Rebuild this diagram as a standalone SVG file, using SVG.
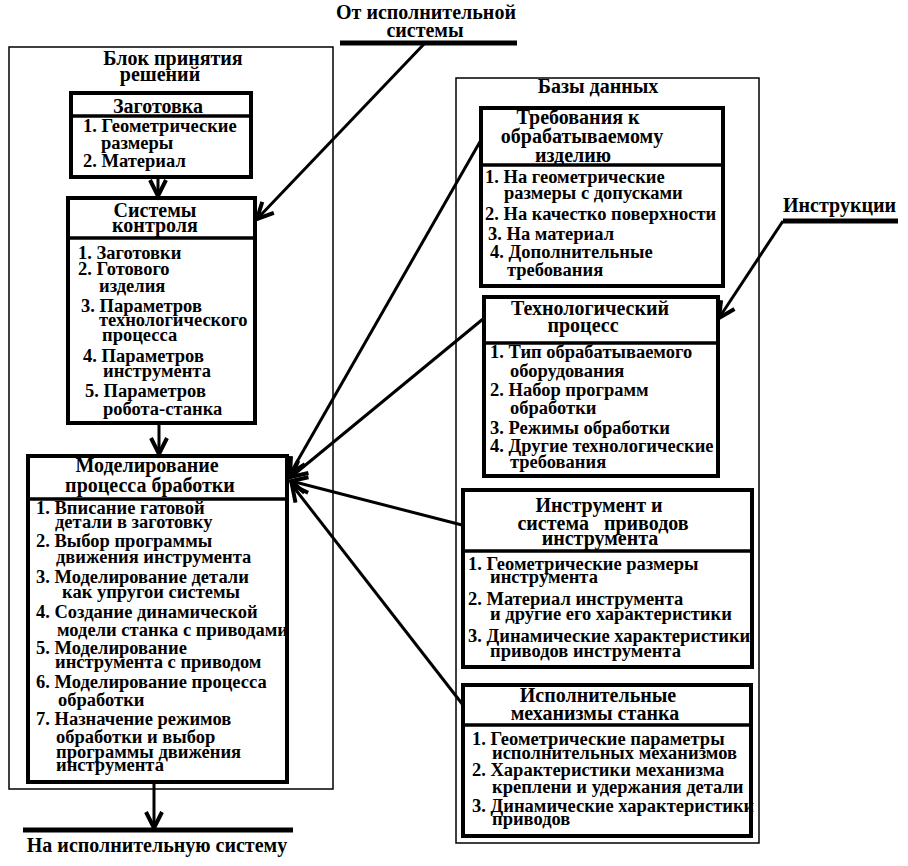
<svg xmlns="http://www.w3.org/2000/svg" width="908" height="866" viewBox="0 0 908 866">
<style>
text{font-family:"Liberation Serif","Times New Roman",serif;font-weight:bold;fill:#000}
.t{font-size:20px}
.h{font-size:20px;text-anchor:middle}
.i{font-size:18.5px}
.outer{fill:none;stroke:#000;stroke-width:1.5}
.box{fill:#fff;stroke:#000;stroke-width:4}
.div{stroke:#000;stroke-width:3.5}
.bar{stroke:#000;stroke-width:5}
.c{stroke:#000;stroke-width:3;fill:none;marker-end:url(#ah)}
</style>
<defs>
<marker id="ah" markerUnits="userSpaceOnUse" viewBox="-18 -11 20 22" refX="0" refY="0" markerWidth="20" markerHeight="22" orient="auto" overflow="visible">
<path d="M-16,-8 L0,0 L-16,8" fill="none" stroke="#000" stroke-width="4" stroke-linejoin="miter"/>
</marker>
</defs>
<rect width="908" height="866" fill="#fff"/>

<g id="decision-block">
<rect class="outer" x="9" y="47" width="324" height="742"/>
<text class="h" x="173" y="65">Блок принятия</text>
<text class="h" x="160" y="81">решений</text>
</g>

<g id="databases">
<rect class="outer" x="456" y="78" width="303" height="765"/>
<text class="h" x="598" y="93">Базы данных</text>
</g>

<g id="zagotovka">
<rect class="box" x="71" y="93" width="180" height="84"/>
<line class="div" x1="71" y1="116" x2="251" y2="116"/>
<text class="h" x="158" y="113">Заготовка</text>
<text class="i" x="83" y="132">1. Геометрические</text>
<text class="i" x="101" y="149">размеры</text>
<text class="i" x="83" y="167">2. Материал</text>
</g>

<g id="sistemy-kontrolya">
<rect class="box" x="68" y="198" width="187" height="225"/>
<line class="div" x1="68" y1="238" x2="255" y2="238"/>
<text class="h" x="155" y="217">Системы</text>
<text class="h" x="155" y="232">контроля</text>
<text class="i" x="78" y="259">1. Заготовки</text>
<text class="i" x="78" y="275">2. Готового</text>
<text class="i" x="99" y="292">изделия</text>
<text class="i" x="81" y="312">3. Параметров</text>
<text class="i" x="99" y="326">технологического</text>
<text class="i" x="102" y="341">процесса</text>
<text class="i" x="83" y="362">4. Параметров</text>
<text class="i" x="103" y="377">инструмента</text>
<text class="i" x="85" y="397">5. Параметров</text>
<text class="i" x="103" y="415">робота-станка</text>
</g>

<g id="modelirovanie">
<rect class="box" x="28" y="456" width="259" height="326"/>
<line class="div" x1="28" y1="499" x2="287" y2="499"/>
<text class="h" x="147" y="472">Моделирование</text>
<text class="h" x="150" y="492">процесса бработки</text>
<text class="i" x="36" y="514">1. Вписание гатовой</text>
<text class="i" x="55" y="528">детали в заготовку</text>
<text class="i" x="36" y="547">2. Выбор программы</text>
<text class="i" x="56" y="563">движения инструмента</text>
<text class="i" x="36" y="583">3.  Моделирование детали</text>
<text class="i" x="62" y="598">как упругои системы</text>
<text class="i" x="36" y="618">4. Создание динамической</text>
<text class="i" x="57" y="636">модели станка с приводами</text>
<text class="i" x="36" y="654">5. Моделирование</text>
<text class="i" x="55" y="668">инструмента с приводом</text>
<text class="i" x="36" y="688">6. Моделирование процесса</text>
<text class="i" x="58" y="706">обработки</text>
<text class="i" x="36" y="725">7. Назначение режимов</text>
<text class="i" x="56" y="743">обработки и выбор</text>
<text class="i" x="56" y="758">программы движения</text>
<text class="i" x="56" y="771">инструмента</text>
</g>

<g id="trebovaniya">
<rect class="box" x="481" y="108" width="242" height="178"/>
<line class="div" x1="481" y1="165" x2="723" y2="165"/>
<text class="h" x="578" y="124">Требования к</text>
<text class="h" x="582" y="143">обрабатываемому</text>
<text class="h" x="573" y="162">изделию</text>
<text class="i" x="485" y="183">1. На геометрические</text>
<text class="i" x="504" y="199">размеры с допусками</text>
<text class="i" x="485" y="220">2. На качестко поверхности</text>
<text class="i" x="488" y="240">3. На материал</text>
<text class="i" x="490" y="258">4. Дополнительные</text>
<text class="i" x="507" y="276">требования</text>
</g>

<g id="tehprocess">
<rect class="box" x="484" y="297" width="234" height="179"/>
<line class="div" x1="484" y1="343" x2="718" y2="343"/>
<text class="h" x="590" y="315">Технологический</text>
<text class="h" x="583" y="332">процесс</text>
<text class="i" x="490" y="358">1. Тип обрабатываемого</text>
<text class="i" x="510" y="377">оборудования</text>
<text class="i" x="490" y="396">2. Набор программ</text>
<text class="i" x="510" y="414">обработки</text>
<text class="i" x="490" y="434">3. Режимы обработки</text>
<text class="i" x="490" y="452">4. Другие технологические</text>
<text class="i" x="510" y="468">требования</text>
</g>

<g id="instrument">
<rect class="box" x="463" y="490" width="289" height="177"/>
<line class="div" x1="463" y1="551" x2="752" y2="551"/>
<text class="h" x="599" y="512">Инструмент и</text>
<text class="h" x="603" y="530" xml:space="preserve">система   приводов</text>
<text class="h" x="600" y="545">инструмента</text>
<text class="i" x="468" y="570">1. Геометрические размеры</text>
<text class="i" x="490" y="583">инструмента</text>
<text class="i" x="468" y="605">2. Материал инструмента</text>
<text class="i" x="490" y="620">и другие его характеристики</text>
<text class="i" x="468" y="642">3. Динамические характеристики</text>
<text class="i" x="490" y="657">приводов инструмента</text>
</g>

<g id="ispolnitelnye">
<rect class="box" x="463" y="685" width="288" height="151"/>
<line class="div" x1="463" y1="725" x2="751" y2="725"/>
<text class="h" x="598" y="702">Исполнительные</text>
<text class="h" x="595" y="720">механизмы станка</text>
<text class="i" x="472" y="745">1. Геометрические параметры</text>
<text class="i" x="492" y="759">исполнительных механизмов</text>
<text class="i" x="472" y="776">2. Характеристики механизма</text>
<text class="i" x="492" y="793">креплени и удержания детали</text>
<text class="i" x="472" y="812">3. Динамические характеристики</text>
<text class="i" x="492" y="825">приводов</text>
</g>

<g id="ot-ispolnitelnoy">
<text class="h" x="426" y="19">От исполнительной</text>
<text class="h" x="425" y="37">системы</text>
<line class="bar" x1="340" y1="43" x2="517" y2="43"/>
</g>

<g id="instrukcii">
<text class="t" x="783" y="212">Инструкции</text>
<line class="bar" x1="783" y1="221" x2="898" y2="221"/>
</g>

<g id="na-ispolnitelnuyu">
<line class="bar" x1="23" y1="830" x2="293" y2="830"/>
<text class="h" x="157" y="852">На исполнительную систему</text>
</g>

<g id="connectors">
<line class="c" x1="425" y1="43" x2="257" y2="219"/>
<line class="c" x1="783" y1="221" x2="719" y2="318"/>
<line class="c" x1="158" y1="177" x2="158" y2="196"/>
<line class="c" x1="159" y1="423" x2="159" y2="454"/>
<line class="c" x1="154" y1="782" x2="154" y2="828"/>
<line class="c" x1="481" y1="140" x2="290" y2="474"/>
<line class="c" x1="483" y1="319" x2="291" y2="477"/>
<line class="c" x1="462" y1="525" x2="291" y2="481"/>
<line class="c" x1="463" y1="705" x2="292" y2="485"/>
</g>
</svg>
